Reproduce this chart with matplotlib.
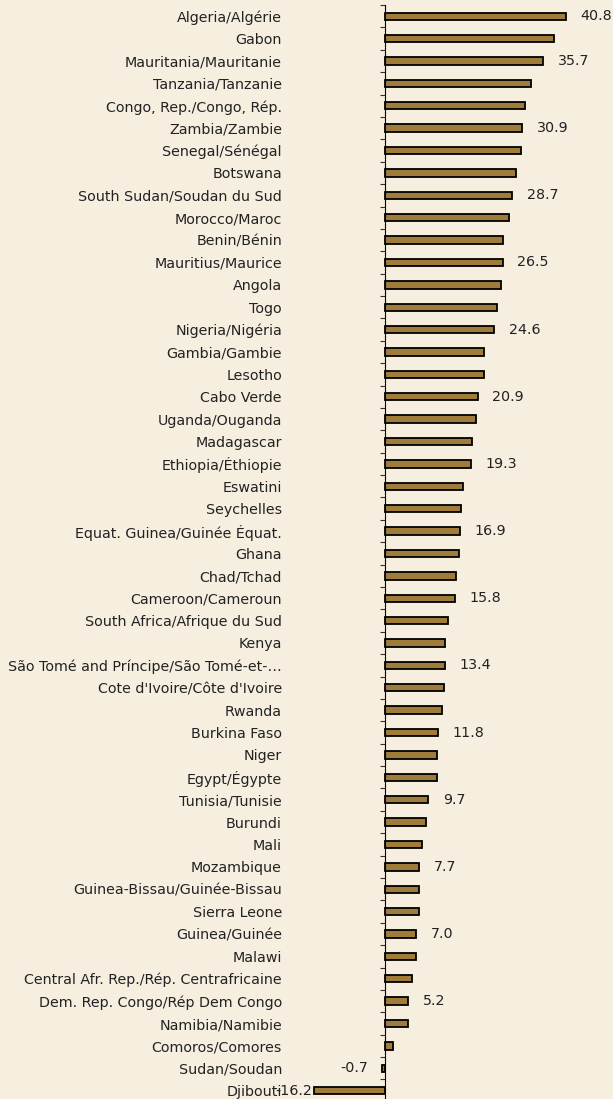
import matplotlib as mpl
mpl.use('Agg')
import matplotlib.pyplot as plt
import numpy as np

# Data, top to bottom as shown
countries = ["Algeria/Algérie", "Gabon", "Mauritania/Mauritanie", "Tanzania/Tanzanie",
             "Congo, Rep./Congo, Rép.", "Zambia/Zambie", "Senegal/Sénégal", "Botswana",
             "South Sudan/Soudan du Sud", "Morocco/Maroc", "Benin/Bénin", "Mauritius/Maurice",
             "Angola", "Togo", "Nigeria/Nigéria", "Gambia/Gambie", "Lesotho", "Cabo Verde",
             "Uganda/Ouganda", "Madagascar", "Ethiopia/Éthiopie", "Eswatini", "Seychelles",
             "Equat. Guinea/Guinée Équat.", "Ghana", "Chad/Tchad", "Cameroon/Cameroun",
             "South Africa/Afrique du Sud", "Kenya", "São Tomé and Príncipe/São Tomé-et-…",
             "Cote d'Ivoire/Côte d'Ivoire", "Rwanda", "Burkina Faso", "Niger", "Egypt/Égypte",
             "Tunisia/Tunisie", "Burundi", "Mali", "Mozambique", "Guinea-Bissau/Guinée-Bissau",
             "Sierra Leone", "Guinea/Guinée", "Malawi", "Central Afr. Rep./Rép. Centrafricaine",
             "Dem. Rep. Congo/Rép Dem Congo", "Namibia/Namibie", "Comoros/Comores",
             "Sudan/Soudan", "Djibouti"]
values = [40.8, 38.2, 35.7, 33.0, 31.7, 30.9, 30.7, 29.6, 28.7, 28.0, 26.6, 26.5,
          26.2, 25.2, 24.6, 22.3, 22.2, 20.9, 20.5, 19.5, 19.3, 17.5, 17.1, 16.9,
          16.7, 16.0, 15.8, 14.2, 13.6, 13.4, 13.2, 12.9, 11.8, 11.7, 11.6, 9.7,
          9.2, 8.3, 7.7, 7.6, 7.5, 7.0, 6.9, 6.0, 5.2, 5.1, 1.7, -0.7, -16.2]
# countries whose value is printed next to the bar
labelled = ["Algeria/Algérie", "Mauritania/Mauritanie", "Zambia/Zambie",
            "South Sudan/Soudan du Sud", "Mauritius/Maurice", "Nigeria/Nigéria",
            "Cabo Verde", "Ethiopia/Éthiopie", "Equat. Guinea/Guinée Équat.",
            "Cameroon/Cameroun", "São Tomé and Príncipe/São Tomé-et-…", "Burkina Faso",
            "Tunisia/Tunisie", "Mozambique", "Guinea/Guinée", "Dem. Rep. Congo/Rép Dem Congo",
            "Sudan/Soudan", "Djibouti"]

bg = '#f6efe0'
barColor = '#a07c3a'
textColor = '#222222'
plt.rcParams['font.family'] = ['DejaVu Sans']

fig = plt.figure(figsize=(6.13, 10.99), dpi=100, facecolor=bg)
ax = fig.add_axes([0, -0.0026, 1, 0.998])
ax.set_facecolor(bg)

pos = np.arange(len(countries))
ax.barh(pos, values, height=0.33, color=barColor, edgecolor='black', linewidth=1.3, zorder=3)

ax.set_ylim(len(countries) - 0.5, -0.5)
ax.set_xlim(-87.2, 51.5)

# Spines / ticks
for s in ['top', 'right', 'bottom']:
    ax.spines[s].set_visible(False)
ax.spines['left'].set_position(('data', 0))
ax.spines['left'].set_linewidth(0.8)
ax.spines['left'].set_zorder(4)
ax.set_xticks([])
ax.set_yticks(pos)
ax.set_yticklabels(countries, fontsize=10.3, color=textColor)
ax.tick_params(axis='y', which='major', length=0, pad=74.5)
ax.set_yticks(np.arange(len(countries) + 1) - 0.5, minor=True)
ax.tick_params(axis='y', which='minor', length=3.8, width=0.8, color='#333333')

# Value labels
for i, (name, v) in enumerate(zip(countries, values)):
    if name not in labelled:
        continue
    if v >= 0:
        ax.annotate(f'{v:.1f}', xy=(v, i), xytext=(10.5, 0), textcoords='offset points',
                    ha='left', va='center', fontsize=10.3, color=textColor)
    else:
        off = -1.5 if v < -5 else -10.5
        ax.annotate(f'{v:.1f}', xy=(v, i), xytext=(off, 0), textcoords='offset points',
                    ha='right', va='center', fontsize=10.3, color=textColor)

plt.savefig('out.png', dpi=100, facecolor=bg)
plt.close()
